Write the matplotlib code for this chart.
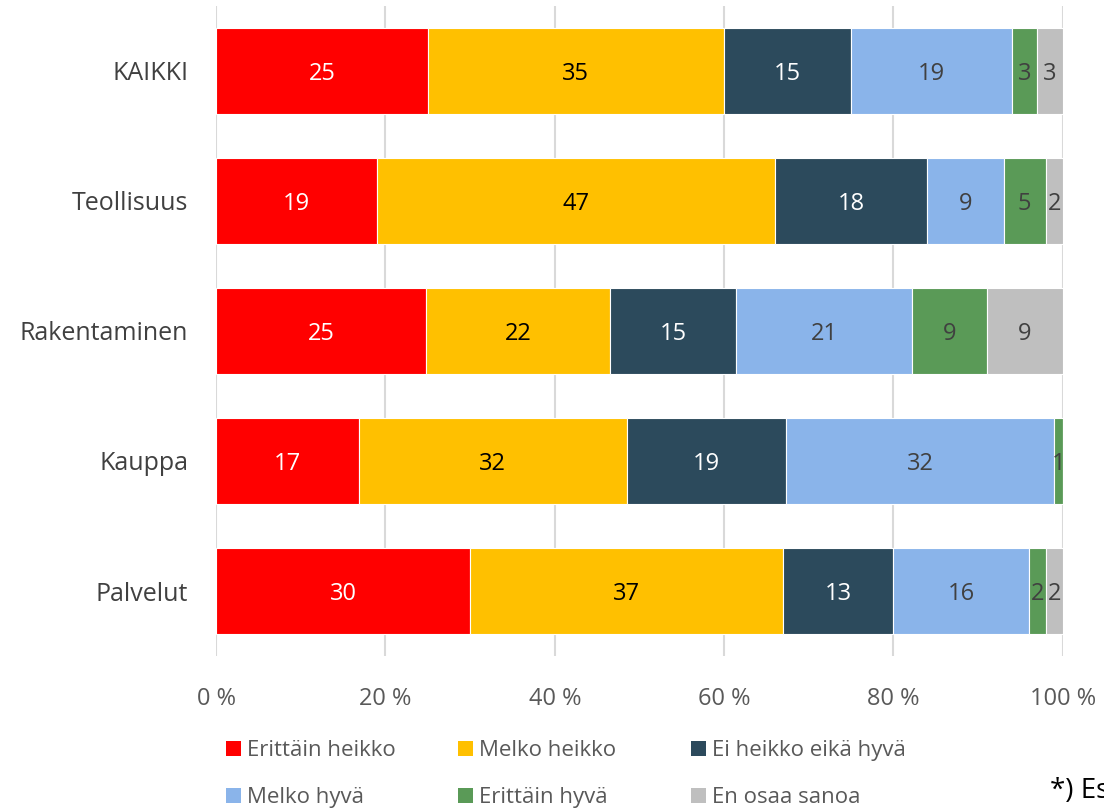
import numpy as np
from matplotlib import pyplot as plt
from matplotlib.patches import Rectangle

# Categories (top to bottom) and answer shares, %
categories = ["KAIKKI", "Teollisuus", "Rakentaminen", "Kauppa", "Palvelut"]
series = ["Erittäin heikko", "Melko heikko", "Ei heikko eikä hyvä",
          "Melko hyvä", "Erittäin hyvä", "En osaa sanoa"]
erittain_heikko = [25, 19, 25, 17, 30]
melko_heikko = [35, 47, 22, 32, 37]
ei_heikko_eika_hyva = [15, 18, 15, 19, 13]
melko_hyva = [19, 9, 21, 32, 16]
erittain_hyva = [3, 5, 9, 1, 2]
en_osaa_sanoa = [3, 2, 9, 0, 2]

colors = ["#FF0000", "#FFC000", "#2C4A5C", "#8AB4EA", "#5A9A57", "#BFBFBF"]
text_colors = ["white", "black", "white", "#404040", "#404040", "#404040"]

plt.rcParams['font.family'] = ['Open Sans', 'DejaVu Sans']

if __name__ == "__main__":
    values = np.array([erittain_heikko, melko_heikko, ei_heikko_eika_hyva,
                       melko_hyva, erittain_hyva, en_osaa_sanoa], dtype=float)
    # bars are scaled to 100 %
    shares = values / values.sum(axis=0) * 100

    W, H = 1104, 808
    fig = plt.figure(figsize=(W / 100, H / 100), dpi=100)
    ax = fig.add_axes([0.1957, 0.188, 0.767, 0.805])

    y = np.arange(len(categories))
    left = np.zeros(len(categories))
    for i, name in enumerate(series):
        ax.barh(y, shares[i], left=left, height=0.66, color=colors[i],
                edgecolor="white", linewidth=0.8, label=name, zorder=2)
        for j in range(len(categories)):
            if values[i, j] > 0:
                ax.text(left[j] + shares[i, j] / 2, y[j], "%d" % values[i, j],
                        ha="center", va="center_baseline", fontsize=17,
                        color=text_colors[i], zorder=3)
        left += shares[i]

    ax.set_xlim(0, 100)
    ax.set_ylim(len(categories) - 0.5, -0.5)
    ax.set_yticks(y)
    ax.set_yticklabels(categories, fontsize=18, color="#404040")
    ax.set_xticks(np.arange(0, 101, 20))
    ax.set_xticklabels(["%d %%" % t for t in range(0, 101, 20)],
                       fontsize=17, color="#595959")
    ax.tick_params(axis="both", length=0)
    ax.tick_params(axis="x", pad=22)
    ax.tick_params(axis="y", pad=20)
    ax.grid(axis="x", color="#D9D9D9", linewidth=1.5, zorder=0)
    for s in ax.spines.values():
        s.set_visible(False)

    # legend: fixed grid of 3 columns x 2 rows, like the original
    col_x = [226, 458, 691]
    row_y = [748, 795]
    for k, name in enumerate(series):
        cx = col_x[k % 3]
        cy = row_y[k // 3]
        fig.patches.append(Rectangle((cx / W, 1 - (cy + 7.5) / H), 15 / W, 15 / H,
                                     transform=fig.transFigure, facecolor=colors[k],
                                     edgecolor="none"))
        fig.text((cx + 21) / W, 1 - cy / H, name, fontsize=16, color="#595959",
                 ha="left", va="center_baseline")

    fig.text(1050 / W, 1 - 787 / H, "*) Es", fontsize=20,
             color="black", va="center_baseline", ha="left")

    fig.savefig("out.png", dpi=100)
